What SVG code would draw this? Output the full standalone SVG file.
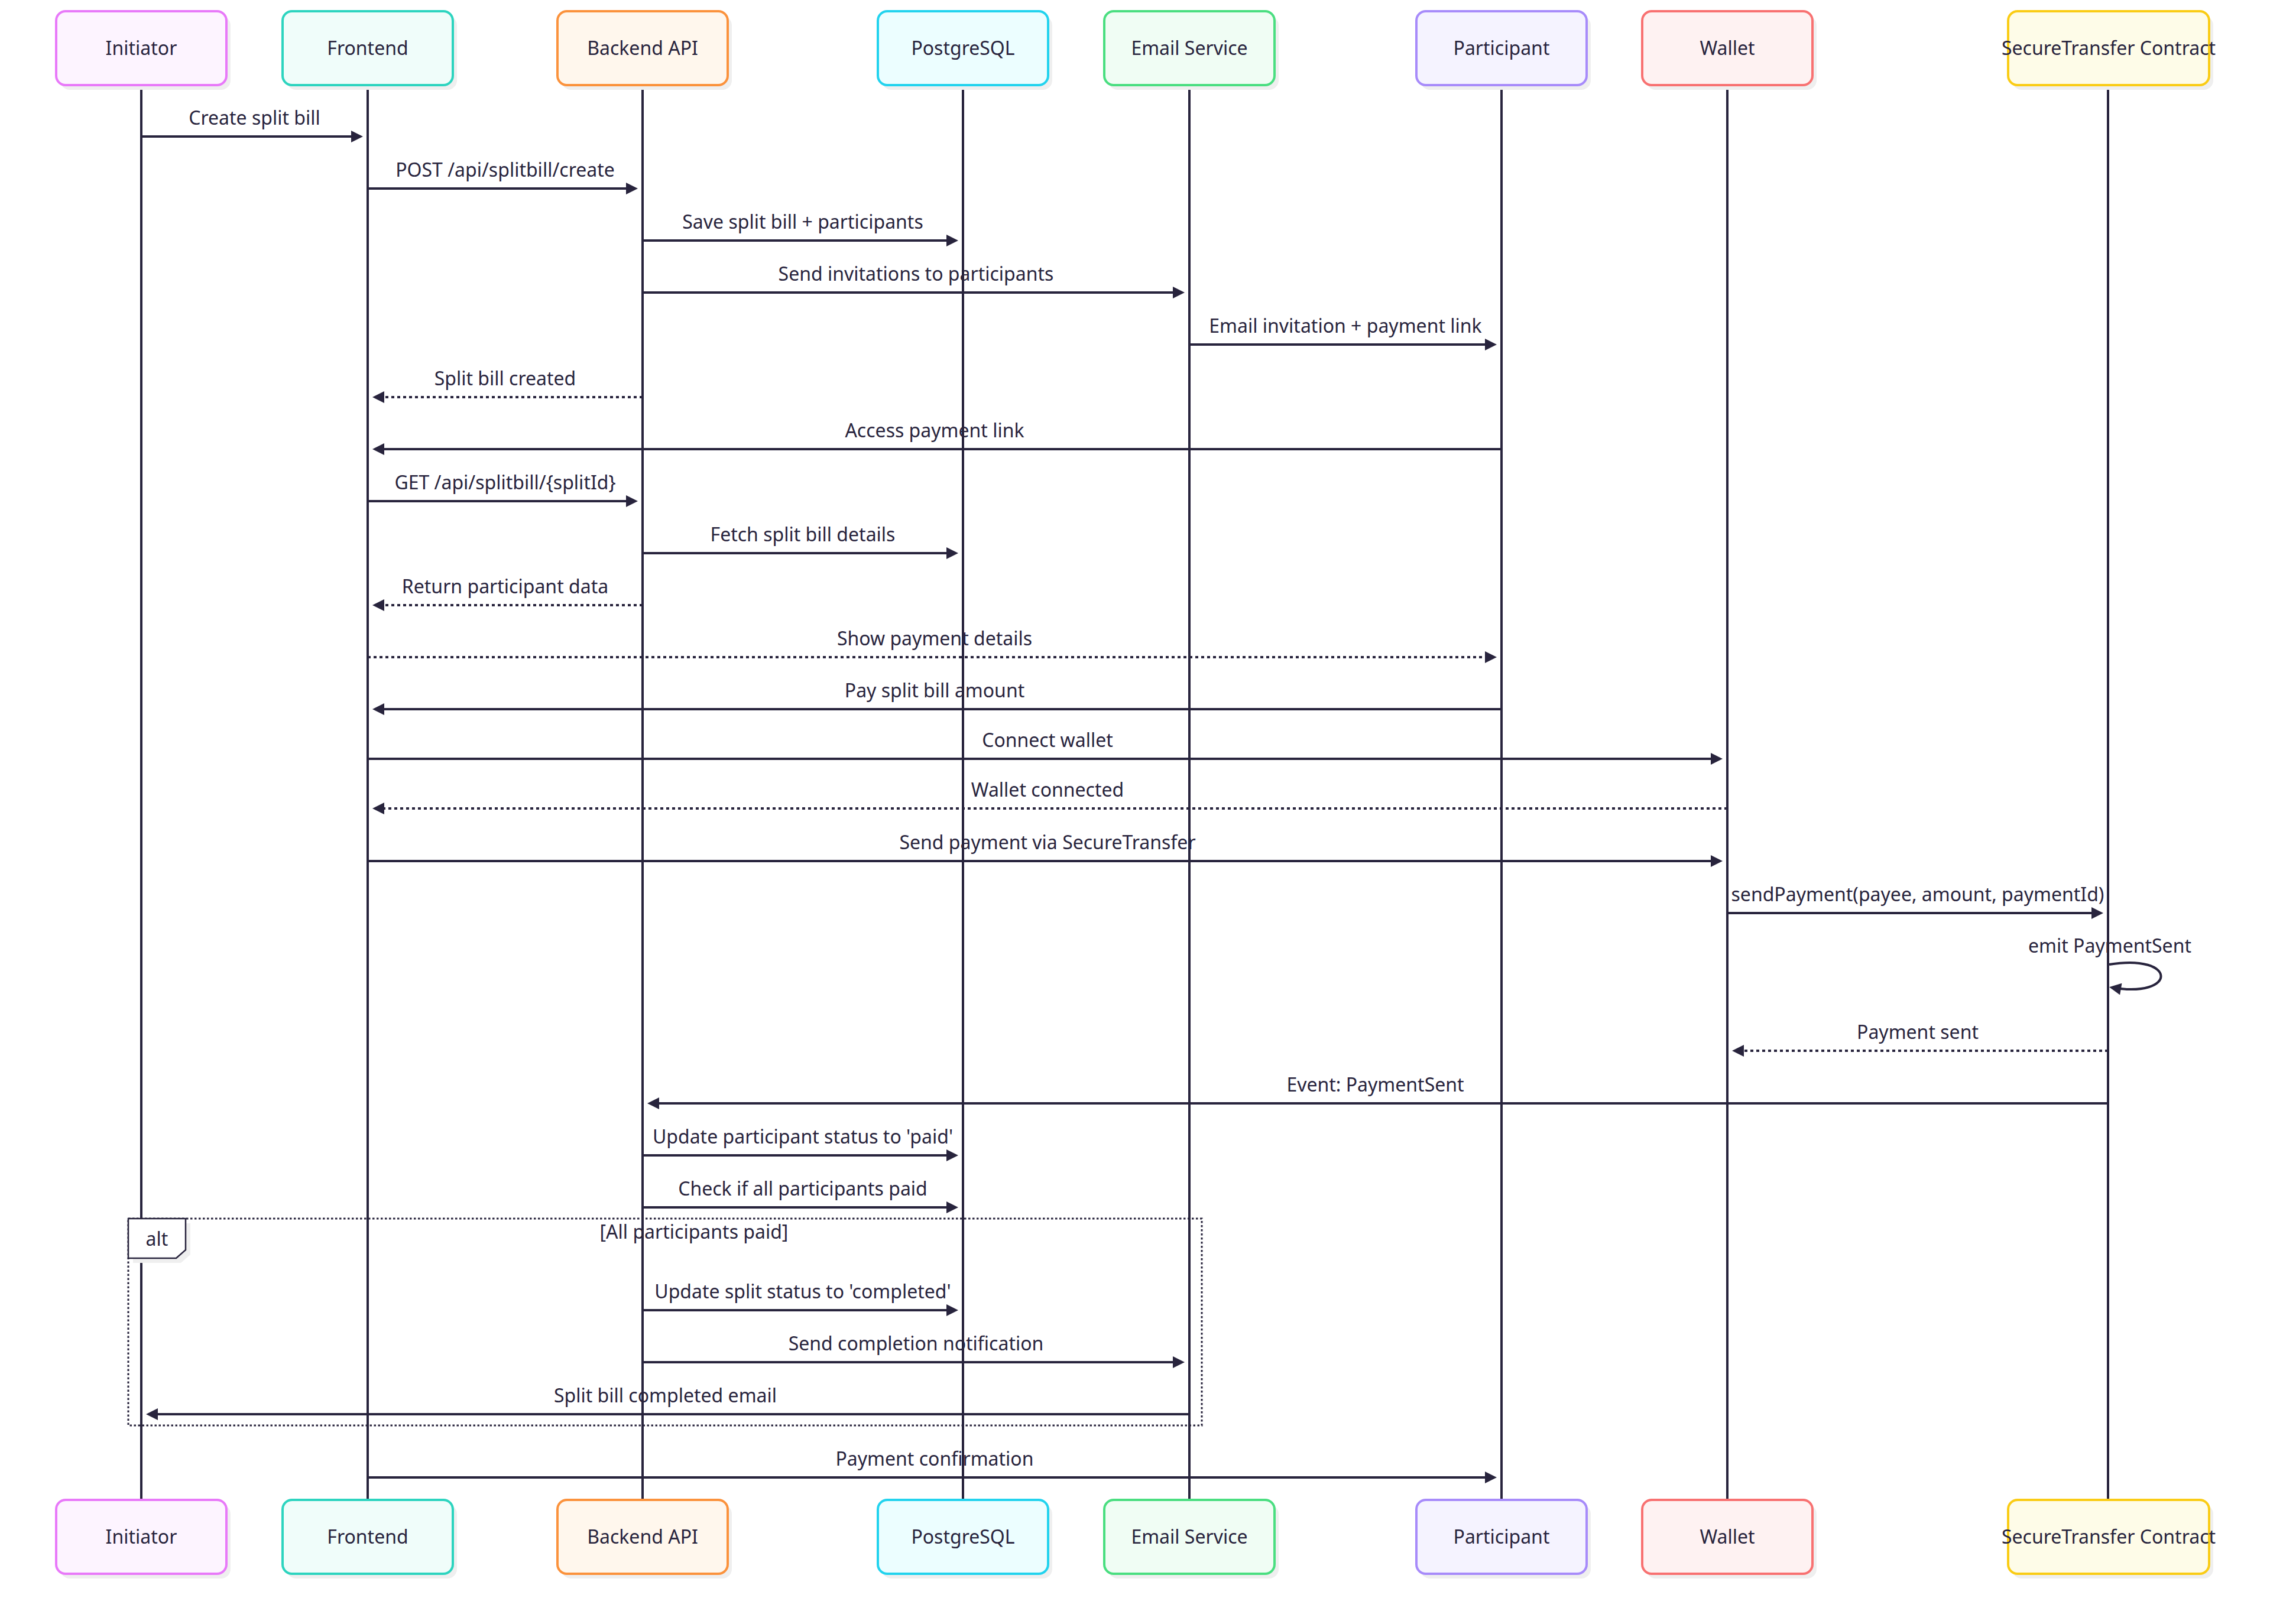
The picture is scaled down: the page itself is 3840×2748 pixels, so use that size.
<svg xmlns="http://www.w3.org/2000/svg" width="3840" height="2748" viewBox="0 0 3840 2748">
<style>
.bg{fill:#ffffff}
.box{stroke-width:4}
.shadow{fill:#efefef}
.lbl{font-family:"Noto Sans",sans-serif;font-size:32px;fill:#28243d;text-anchor:middle}
.life{stroke:#28243d;stroke-width:4}
.msg{stroke:#28243d;stroke-width:4;fill:none}
.dash{stroke-dasharray:5 5}
.frame{stroke:#28243d;stroke-width:3;stroke-dasharray:3.5 3.5;fill:none}
.altlbl{fill:#ffffff;stroke:#28243d;stroke-width:2.5}
</style>
<defs>
<marker id="arrow" markerUnits="userSpaceOnUse" viewBox="0 0 10 10" refX="8" refY="5" markerWidth="21" markerHeight="20" orient="auto">
<path d="M0,0 L10,5 L0,10 z" fill="#28243d"/>
</marker>
</defs>
<rect class="bg" x="0" y="0" width="3840" height="2748"/>

<g id="lifelines">
<line class="life" x1="239" y1="144" x2="239" y2="2538"/>
<line class="life" x1="622" y1="144" x2="622" y2="2538"/>
<line class="life" x1="1087" y1="144" x2="1087" y2="2538"/>
<line class="life" x1="1629" y1="144" x2="1629" y2="2538"/>
<line class="life" x1="2012" y1="144" x2="2012" y2="2538"/>
<line class="life" x1="2540" y1="144" x2="2540" y2="2538"/>
<line class="life" x1="2922" y1="144" x2="2922" y2="2538"/>
<line class="life" x1="3566" y1="144" x2="3566" y2="2538"/>
</g>

<g id="actor-initiator">
<rect class="shadow" x="102" y="27" width="288" height="125" rx="16"/>
<rect class="box" x="95" y="19" width="288" height="125" rx="16" fill="#fdf4ff" stroke="#e879f9"/>
<text class="lbl" x="239" y="92.5">Initiator</text>
<rect class="shadow" x="102" y="2546" width="288" height="125" rx="16"/>
<rect class="box" x="95" y="2538" width="288" height="125" rx="16" fill="#fdf4ff" stroke="#e879f9"/>
<text class="lbl" x="239" y="2612">Initiator</text>
</g>

<g id="actor-frontend">
<rect class="shadow" x="485" y="27" width="288" height="125" rx="16"/>
<rect class="box" x="478" y="19" width="288" height="125" rx="16" fill="#f0fdfa" stroke="#2dd4bf"/>
<text class="lbl" x="622" y="92.5">Frontend</text>
<rect class="shadow" x="485" y="2546" width="288" height="125" rx="16"/>
<rect class="box" x="478" y="2538" width="288" height="125" rx="16" fill="#f0fdfa" stroke="#2dd4bf"/>
<text class="lbl" x="622" y="2612">Frontend</text>
</g>

<g id="actor-backend">
<rect class="shadow" x="950" y="27" width="288" height="125" rx="16"/>
<rect class="box" x="943" y="19" width="288" height="125" rx="16" fill="#fff7ed" stroke="#fb923c"/>
<text class="lbl" x="1087" y="92.5">Backend API</text>
<rect class="shadow" x="950" y="2546" width="288" height="125" rx="16"/>
<rect class="box" x="943" y="2538" width="288" height="125" rx="16" fill="#fff7ed" stroke="#fb923c"/>
<text class="lbl" x="1087" y="2612">Backend API</text>
</g>

<g id="actor-postgres">
<rect class="shadow" x="1492" y="27" width="288" height="125" rx="16"/>
<rect class="box" x="1485" y="19" width="288" height="125" rx="16" fill="#ecfeff" stroke="#22d3ee"/>
<text class="lbl" x="1629" y="92.5">PostgreSQL</text>
<rect class="shadow" x="1492" y="2546" width="288" height="125" rx="16"/>
<rect class="box" x="1485" y="2538" width="288" height="125" rx="16" fill="#ecfeff" stroke="#22d3ee"/>
<text class="lbl" x="1629" y="2612">PostgreSQL</text>
</g>

<g id="actor-email">
<rect class="shadow" x="1875" y="27" width="288" height="125" rx="16"/>
<rect class="box" x="1868" y="19" width="288" height="125" rx="16" fill="#f0fdf4" stroke="#4ade80"/>
<text class="lbl" x="2012" y="92.5">Email Service</text>
<rect class="shadow" x="1875" y="2546" width="288" height="125" rx="16"/>
<rect class="box" x="1868" y="2538" width="288" height="125" rx="16" fill="#f0fdf4" stroke="#4ade80"/>
<text class="lbl" x="2012" y="2612">Email Service</text>
</g>

<g id="actor-participant">
<rect class="shadow" x="2403" y="27" width="288" height="125" rx="16"/>
<rect class="box" x="2396" y="19" width="288" height="125" rx="16" fill="#f5f3ff" stroke="#a78bfa"/>
<text class="lbl" x="2540" y="92.5">Participant</text>
<rect class="shadow" x="2403" y="2546" width="288" height="125" rx="16"/>
<rect class="box" x="2396" y="2538" width="288" height="125" rx="16" fill="#f5f3ff" stroke="#a78bfa"/>
<text class="lbl" x="2540" y="2612">Participant</text>
</g>

<g id="actor-wallet">
<rect class="shadow" x="2785" y="27" width="288" height="125" rx="16"/>
<rect class="box" x="2778" y="19" width="288" height="125" rx="16" fill="#fef2f2" stroke="#f87171"/>
<text class="lbl" x="2922" y="92.5">Wallet</text>
<rect class="shadow" x="2785" y="2546" width="288" height="125" rx="16"/>
<rect class="box" x="2778" y="2538" width="288" height="125" rx="16" fill="#fef2f2" stroke="#f87171"/>
<text class="lbl" x="2922" y="2612">Wallet</text>
</g>

<g id="actor-secure">
<rect class="shadow" x="3404" y="27" width="340" height="125" rx="16"/>
<rect class="box" x="3397" y="19" width="340" height="125" rx="16" fill="#fefce8" stroke="#facc15"/>
<text class="lbl" x="3567" y="92.5">SecureTransfer Contract</text>
<rect class="shadow" x="3404" y="2546" width="340" height="125" rx="16"/>
<rect class="box" x="3397" y="2538" width="340" height="125" rx="16" fill="#fefce8" stroke="#facc15"/>
<text class="lbl" x="3567" y="2612">SecureTransfer Contract</text>
</g>

<g id="alt-block">
<rect class="frame" x="217" y="2062" width="1816" height="350"/>
<polygon class="shadow" points="225,2070 322,2070 322,2123 306,2137 225,2137"/>
<polygon class="altlbl" points="217,2062 314,2062 314,2115 298,2129 217,2129"/>
<text class="lbl" x="265.5" y="2108">alt</text>
<text class="lbl" x="1174" y="2096">[All participants paid]</text>
</g>

<g id="connectors">
<line class="msg" x1="239" y1="231" x2="610" y2="231" marker-end="url(#arrow)"/>
<text class="lbl" x="430.5" y="211">Create split bill</text>

<line class="msg" x1="622" y1="319" x2="1075" y2="319" marker-end="url(#arrow)"/>
<text class="lbl" x="854.5" y="299">POST /api/splitbill/create</text>

<line class="msg" x1="1087" y1="407" x2="1617" y2="407" marker-end="url(#arrow)"/>
<text class="lbl" x="1358" y="387">Save split bill + participants</text>

<line class="msg" x1="1087" y1="495" x2="2000" y2="495" marker-end="url(#arrow)"/>
<text class="lbl" x="1549.5" y="475">Send invitations to participants</text>

<line class="msg" x1="2012" y1="583" x2="2528" y2="583" marker-end="url(#arrow)"/>
<text class="lbl" x="2276" y="563">Email invitation + payment link</text>

<line class="msg dash" x1="1087" y1="672" x2="634" y2="672" marker-end="url(#arrow)"/>
<text class="lbl" x="854.5" y="652">Split bill created</text>

<line class="msg" x1="2540" y1="760" x2="634" y2="760" marker-end="url(#arrow)"/>
<text class="lbl" x="1581" y="740">Access payment link</text>

<line class="msg" x1="622" y1="848" x2="1075" y2="848" marker-end="url(#arrow)"/>
<text class="lbl" x="854.5" y="828">GET /api/splitbill/{splitId}</text>

<line class="msg" x1="1087" y1="936" x2="1617" y2="936" marker-end="url(#arrow)"/>
<text class="lbl" x="1358" y="916">Fetch split bill details</text>

<line class="msg dash" x1="1087" y1="1024" x2="634" y2="1024" marker-end="url(#arrow)"/>
<text class="lbl" x="854.5" y="1004">Return participant data</text>

<line class="msg dash" x1="622" y1="1112" x2="2528" y2="1112" marker-end="url(#arrow)"/>
<text class="lbl" x="1581" y="1092">Show payment details</text>

<line class="msg" x1="2540" y1="1200" x2="634" y2="1200" marker-end="url(#arrow)"/>
<text class="lbl" x="1581" y="1180">Pay split bill amount</text>

<line class="msg" x1="622" y1="1284" x2="2910" y2="1284" marker-end="url(#arrow)"/>
<text class="lbl" x="1772" y="1264">Connect wallet</text>

<line class="msg dash" x1="2922" y1="1368" x2="634" y2="1368" marker-end="url(#arrow)"/>
<text class="lbl" x="1772" y="1348">Wallet connected</text>

<line class="msg" x1="622" y1="1457" x2="2910" y2="1457" marker-end="url(#arrow)"/>
<text class="lbl" x="1772" y="1437">Send payment via SecureTransfer</text>

<line class="msg" x1="2922" y1="1545" x2="3554" y2="1545" marker-end="url(#arrow)"/>
<text class="lbl" x="3244" y="1525">sendPayment(payee, amount, paymentId)</text>

<path class="msg" d="M3568,1632 C3684,1613 3684,1690 3572,1671" marker-end="url(#arrow)"/>
<text class="lbl" x="3569" y="1612">emit PaymentSent</text>

<line class="msg dash" x1="3566" y1="1778" x2="2934" y2="1778" marker-end="url(#arrow)"/>
<text class="lbl" x="3244" y="1758">Payment sent</text>

<line class="msg" x1="3566" y1="1867" x2="1099" y2="1867" marker-end="url(#arrow)"/>
<text class="lbl" x="2326.5" y="1847">Event: PaymentSent</text>

<line class="msg" x1="1087" y1="1955" x2="1617" y2="1955" marker-end="url(#arrow)"/>
<text class="lbl" x="1358" y="1935">Update participant status to 'paid'</text>

<line class="msg" x1="1087" y1="2043" x2="1617" y2="2043" marker-end="url(#arrow)"/>
<text class="lbl" x="1358" y="2023">Check if all participants paid</text>

<line class="msg" x1="1087" y1="2217" x2="1617" y2="2217" marker-end="url(#arrow)"/>
<text class="lbl" x="1358" y="2197">Update split status to 'completed'</text>

<line class="msg" x1="1087" y1="2305" x2="2000" y2="2305" marker-end="url(#arrow)"/>
<text class="lbl" x="1549.5" y="2285">Send completion notification</text>

<line class="msg" x1="2012" y1="2393" x2="251" y2="2393" marker-end="url(#arrow)"/>
<text class="lbl" x="1125.5" y="2373">Split bill completed email</text>

<line class="msg" x1="622" y1="2500" x2="2528" y2="2500" marker-end="url(#arrow)"/>
<text class="lbl" x="1581" y="2480">Payment confirmation</text>
</g>
</svg>
